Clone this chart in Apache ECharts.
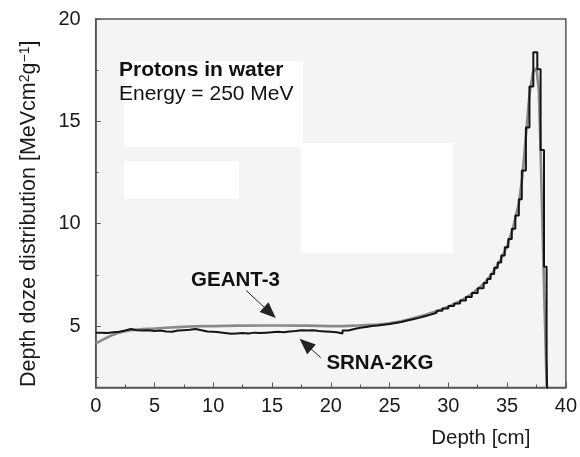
<!DOCTYPE html>
<html>
<head>
<meta charset="utf-8">
<script src="https://cdn.jsdelivr.net/npm/echarts@6/dist/echarts.min.js"></script>
<style>html,body{margin:0;padding:0;background:#fff}#c{width:580px;height:457px}</style>
</head>
<body>
<div id="c"></div>
<script>
// GEANT-3 (gray curve)
const geantDepth = [0,0.5,1,1.5,2,2.5,3,4,5,6,7,8,9,10,11,12,13,14,15,16,17,18,19,20,21,22,23,24,25,26,27,28,29,30,31,32,33,33.5,34,34.5,35,35.5,36,36.3,36.6,36.9,37.2,37.5,37.7,37.85,38.1,38.3,38.45];
const geantDose  = [4.15,4.3,4.45,4.58,4.68,4.75,4.8,4.85,4.88,4.92,4.95,4.98,5.0,5.0,5.01,5.02,5.02,5.03,5.03,5.03,5.02,5.02,5.01,5.0,5.0,5.02,5.05,5.08,5.14,5.24,5.38,5.54,5.73,5.95,6.22,6.58,7.05,7.4,7.8,8.3,8.9,9.8,11.0,12.3,14.3,16.3,17.4,17.6,16.5,13.5,7.8,3.5,0];

// SRNA-2KG (black histogram, bin start positions)
const srnaDepth = [0,0.5,1,1.5,2,2.5,3,3.5,4,4.5,5,5.5,6,6.5,7,7.5,8,8.5,9,9.5,10,10.5,11,11.5,12,12.5,13,13.5,14,14.5,15,15.5,16,16.5,17,17.5,18,18.5,19,19.5,20,20.5,21,21.5,22,22.5,23,23.5,24,24.5,25,25.5,26,26.5,27,27.5,28,28.5,29,29.5,30,30.5,31,31.5,32,32.5,33,
  33.3,33.6,33.9,34.2,34.5,34.8,35.1,35.4,35.7,36.0,36.25,36.6,36.9,37.23,37.57,37.85,38.14,38.36,38.46];
const srnaDose  = [4.68,4.66,4.7,4.72,4.78,4.86,4.8,4.78,4.8,4.76,4.78,4.74,4.72,4.78,4.8,4.82,4.86,4.8,4.74,4.72,4.7,4.66,4.62,4.64,4.66,4.64,4.68,4.66,4.68,4.7,4.72,4.7,4.74,4.76,4.8,4.78,4.8,4.76,4.74,4.72,4.7,4.64,4.78,4.86,4.92,4.96,5.0,5.03,5.06,5.1,5.15,5.2,5.27,5.33,5.4,5.48,5.56,5.65,5.75,5.86,5.98,6.1,6.25,6.42,6.62,6.85,7.1,
  7.3,7.55,7.85,8.1,8.45,8.85,9.25,9.75,10.4,11.2,12.6,14.7,16.7,18.37,17.55,13.6,7.9,3.4,0];

const xTicks = [0,5,10,15,20,25,30,35,40];
const yLabels = [5,10,15,20];
const yMinorTicks = [2.5,7.5,12.5,17.5];

const FONT = 'Liberation Sans, Arial, sans-serif';
const chart = echarts.init(document.getElementById('c'), null, {renderer:'canvas'});

const option = {
  animation: false,
  backgroundColor: '#ffffff',
  textStyle: {fontFamily: FONT, color: '#1a1a1a'},
  title: {
    text: 'Protons in water',
    subtext: 'Energy = 250 MeV',
    left: 119, top: 60, padding: 0, itemGap: 3,
    textStyle: {fontFamily: FONT, fontSize: 21, fontWeight: 'bold', color: '#111'},
    subtextStyle: {fontFamily: FONT, fontSize: 21, color: '#111'}
  },
  grid: {
    left: 95.7, right: 12.3, top: 19, bottom: 69.5,
    show: true, backgroundColor: '#f4f4f4', borderColor: '#555', borderWidth: 1.5
  },
  graphic: [
    {type:'rect', z:1, shape:{x:124,y:61,width:179,height:86}, style:{fill:'#ffffff'}},
    {type:'rect', z:1, shape:{x:124,y:161,width:115,height:38}, style:{fill:'#ffffff'}},
    {type:'rect', z:1, shape:{x:301,y:143,width:152,height:110}, style:{fill:'#ffffff'}}
  ],
  xAxis: {
    type: 'value', min: 0, max: 40, interval: 5,
    name: 'Depth [cm]', nameLocation: 'middle', nameGap: 40,
    nameTextStyle: {fontFamily: FONT, fontSize: 20.5, color: '#1a1a1a', padding: [0,0,0,300]},
    axisLine: {lineStyle: {color: '#555', width: 1.5}},
    axisTick: {inside: true, length: 5, lineStyle: {color: '#555'}},
    minorTick: {show: true, splitNumber: 2, length: 3, lineStyle: {color: '#555'}},
    axisLabel: {fontFamily: FONT, fontSize: 20, color: '#1a1a1a', margin: 9,
      customValues: xTicks},
    splitLine: {show: false}
  },
  yAxis: [{
    type: 'value', min: 2, max: 20,
    name: 'Depth doze distribution [MeVcm{sup|2}g{sup|−1}]',
    nameLocation: 'middle', nameGap: 56, nameRotate: 90,
    nameTextStyle: {fontFamily: FONT, fontSize: 21.5, color: '#1a1a1a', padding: [0,21,0,0],
      rich: {sup: {fontFamily: FONT, fontSize: 14, verticalAlign: 'top', lineHeight: 22, padding:[0,0,10,0]}}},
    axisLine: {show: true, lineStyle: {color: '#555', width: 1.5}},
    axisTick: {show: true, inside: true, length: 5, lineStyle: {color: '#555'}, customValues: yLabels},
    axisLabel: {fontFamily: FONT, fontSize: 20, color: '#1a1a1a', margin: 15, customValues: yLabels},
    splitLine: {show: false}
  }, {
    type: 'value', min: 2, max: 20, position: 'left',
    axisLine: {show: false},
    axisTick: {show: true, inside: true, length: 3, lineStyle: {color: '#555'}, customValues: yMinorTicks},
    axisLabel: {show: false},
    splitLine: {show: false}
  }],
  series: [
    {
      name: 'GEANT-3', type: 'line', symbol: 'none', z: 2,
      data: geantDepth.map((d,i)=>[d, geantDose[i]]),
      lineStyle: {color: '#8a8a8a', width: 2.6}
    },
    {
      name: 'SRNA-2KG', type: 'line', symbol: 'none', step: 'end', z: 3,
      data: srnaDepth.map((d,i)=>[d, srnaDose[i]]),
      lineStyle: {color: '#141414', width: 2},
      markLine: {
        silent: true, symbol: ['none','triangle'], symbolSize: [13, 16],
        label: {show: false},
        itemStyle: {color: '#111'},
        lineStyle: {color: '#222', width: 1, type: 'solid'},
        data: [
          [{coord:[12.8,6.74]}, {coord:[14.82,5.66]}],
          [{coord:[19.15,3.46]}, {coord:[17.85,4.12]}]
        ]
      },
      markPoint: {
        silent: true, symbol: 'rect', symbolSize: 1, itemStyle: {color: 'rgba(0,0,0,0)'},
        label: {show: true, position: 'inside', fontFamily: FONT, fontSize: 20.5, fontWeight: 'bold', color: '#111'},
        data: [
          {coord:[11.89,7.23], label:{formatter:'GEANT-3'}},
          {coord:[24.18,3.2], label:{formatter:'SRNA-2KG'}}
        ]
      }
    }
  ]
};
chart.setOption(option);
</script>
</body>
</html>
